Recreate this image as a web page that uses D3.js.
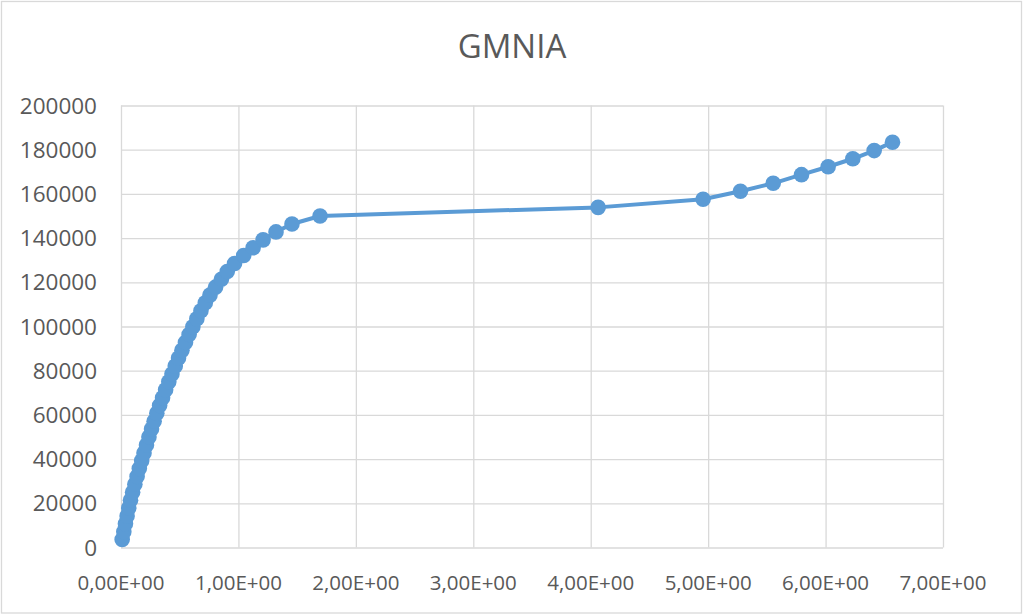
<!DOCTYPE html>
<html>
<head>
<meta charset="utf-8">
<script src="https://cdn.jsdelivr.net/npm/d3@7"></script>
<style>
  body { margin: 0; background: #fff; }
  text { font-family: 'Open Sans', sans-serif; fill: #595959; }
</style>
</head>
<body>
<svg width="1024" height="615"></svg>
<script>
const title = 'GMNIA';

// displacement (x) and load (y)
const displacement = [
  0.010, 0.024, 0.038, 0.052, 0.066, 0.081, 0.099, 0.118, 0.137, 0.156,
  0.176, 0.196, 0.217, 0.238, 0.260, 0.282, 0.305, 0.329, 0.354, 0.380,
  0.407, 0.434, 0.462, 0.490, 0.519, 0.549, 0.580, 0.612, 0.646, 0.681,
  0.718, 0.758, 0.805, 0.855, 0.905, 0.967, 1.045, 1.125, 1.210, 1.320,
  1.456, 1.695, 4.063, 4.957, 5.275, 5.554, 5.795, 6.022, 6.232, 6.414,
  6.570
];
const load = [
  3600, 7100, 10700, 14300, 17900, 21400, 25000, 28600, 32100, 35700,
  39300, 42800, 46400, 50000, 53600, 57100, 60700, 64300, 67800, 71400,
  75000, 78500, 82100, 85700, 89200, 92800, 96400, 99900, 103500, 107100,
  110700, 114200, 117800, 121400, 124900, 128500, 132100, 135600, 139200, 142800,
  146400, 150000, 153900, 157600, 161200, 164800, 168700, 172300, 175900, 179600,
  183400
];

const xTicks = [0, 1, 2, 3, 4, 5, 6, 7];
const yTicks = [0, 20000, 40000, 60000, 80000, 100000, 120000, 140000, 160000, 180000, 200000];

const data = displacement.map((d, i) => ({ x: d, y: load[i] }));

const svg = d3.select('svg');
const width = +svg.attr('width');
const height = +svg.attr('height');

const margin = { top: 105.5, right: 81, bottom: 67.5, left: 121 };
const innerWidth = width - margin.left - margin.right;
const innerHeight = height - margin.top - margin.bottom;

// chart frame
svg.append('rect')
  .attr('x', 1.5)
  .attr('y', 1.5)
  .attr('width', 1020)
  .attr('height', 611.5)
  .attr('fill', 'none')
  .attr('stroke', '#d9d9d9')
  .attr('stroke-width', 1.3);

svg.append('text')
  .attr('x', 512)
  .attr('y', 58)
  .attr('text-anchor', 'middle')
  .attr('font-size', '33px')
  .text(title);

const xScale = d3.scaleLinear()
  .domain([0, 7])
  .range([0, innerWidth]);

const yScale = d3.scaleLinear()
  .domain([0, 200000])
  .range([innerHeight, 0]);

const g = svg.append('g')
  .attr('transform', `translate(${margin.left},${margin.top})`);

const fmtX = d => d.toFixed(2).replace('.', ',') + 'E+00';

//horizontal grid
const yAxisG = g.append('g')
  .call(d3.axisLeft(yScale)
    .tickValues(yTicks)
    .tickSize(-innerWidth)
    .tickFormat(''));
yAxisG.select('.domain').remove();
yAxisG.selectAll('line').attr('stroke', '#d9d9d9').attr('stroke-width', 1.3);

//vertical grid
const xAxisG = g.append('g')
  .attr('transform', `translate(0,${innerHeight})`)
  .call(d3.axisBottom(xScale)
    .tickValues(xTicks)
    .tickSize(-innerHeight)
    .tickFormat(''));
xAxisG.select('.domain').remove();
xAxisG.selectAll('line').attr('stroke', '#d9d9d9').attr('stroke-width', 1.3);

//tick labels
g.selectAll('.y-label').data(yTicks)
  .enter().append('text')
  .attr('class', 'y-label')
  .attr('x', -24)
  .attr('y', d => yScale(d) + 8)
  .attr('text-anchor', 'end')
  .attr('font-size', '22.5px')
  .text(d => d);

g.selectAll('.x-label').data(xTicks)
  .enter().append('text')
  .attr('class', 'x-label')
  .attr('x', d => xScale(d))
  .attr('y', innerHeight + 42)
  .attr('text-anchor', 'middle')
  .attr('font-size', '20.5px')
  .text(fmtX);

// series line
const line = d3.line()
  .x(d => xScale(d.x))
  .y(d => yScale(d.y));

g.append('path')
  .datum(data)
  .attr('fill', 'none')
  .attr('stroke', '#5b9bd5')
  .attr('stroke-width', 4)
  .attr('stroke-linejoin', 'round')
  .attr('d', line);

// markers
g.selectAll('circle').data(data)
  .enter().append('circle')
  .attr('cx', d => xScale(d.x))
  .attr('cy', d => yScale(d.y))
  .attr('r', 7.8)
  .attr('fill', '#5b9bd5');
</script>
</body>
</html>
